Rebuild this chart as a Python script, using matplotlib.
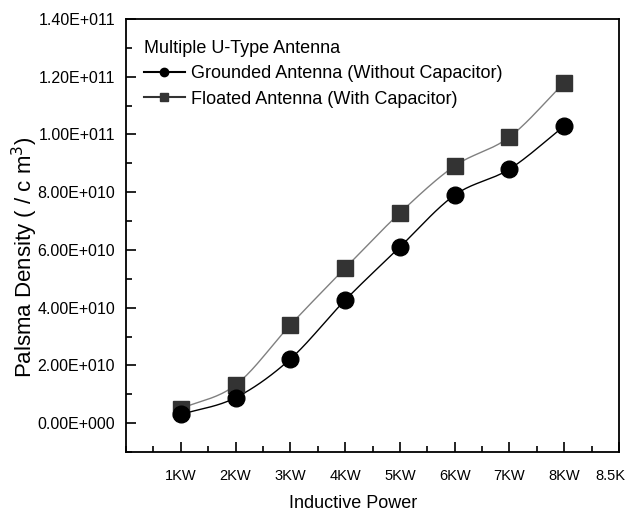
import numpy as np
import matplotlib
matplotlib.use("Agg")
import matplotlib.pyplot as plt
import matplotlib.transforms as mtransforms
from matplotlib.ticker import MultipleLocator, FixedLocator
from matplotlib.lines import Line2D

plt.rcParams['font.family'] = ['Liberation Sans', 'DejaVu Sans']

power = [1, 2, 3, 4, 5, 6, 7, 8]
tick_pos = [1, 2, 3, 4, 5, 6, 7, 8, 9]
tick_labels = ['1KW', '2KW', '3KW', '4KW', '5KW', '6KW', '7KW', '8KW', '8.5K']
grounded = [0.30e10, 0.88e10, 2.22e10, 4.26e10, 6.10e10, 7.90e10, 8.80e10, 10.29e10]
floated = [0.50e10, 1.32e10, 3.40e10, 5.37e10, 7.28e10, 8.91e10, 9.91e10, 11.79e10]
ytick_vals = [0, 2e10, 4e10, 6e10, 8e10, 10e10, 12e10, 14e10]
ytick_labels = ['0.00E+000', '2.00E+010', '4.00E+010', '6.00E+010', '8.00E+010',
                '1.00E+011', '1.20E+011', '1.40E+011']


def smooth(x, y, n=20):
    # Catmull-Rom curve through the data points (for drawing the connecting line)
    x = np.asarray(x, float); y = np.asarray(y, float)
    px = np.concatenate([[2 * x[0] - x[1]], x, [2 * x[-1] - x[-2]]])
    py = np.concatenate([[2 * y[0] - y[1]], y, [2 * y[-1] - y[-2]]])
    xs, ys = [], []
    t = np.linspace(0, 1, n, endpoint=False)
    for i in range(1, len(px) - 2):
        for arr, out in ((px, xs), (py, ys)):
            p0, p1, p2, p3 = arr[i - 1], arr[i], arr[i + 1], arr[i + 2]
            out.extend(0.5 * ((2 * p1) + (-p0 + p2) * t + (2 * p0 - 5 * p1 + 4 * p2 - p3) * t ** 2
                              + (-p0 + 3 * p1 - 3 * p2 + p3) * t ** 3))
    xs.append(x[-1]); ys.append(y[-1])
    return np.array(xs), np.array(ys)


fig = plt.figure(figsize=(6.27, 5.11), dpi=100)
ax = fig.add_axes([126 / 627, 1 - 452 / 511, (619 - 126) / 627, (452 - 19) / 511])

sx, sy = smooth(power, floated)
ax.plot(sx, sy, color='#808080', lw=1.0, zorder=2)
gx, gy = smooth(power, grounded)
ax.plot(gx, gy, color='black', lw=1.0, zorder=2)
ax.plot(power, floated, ls='none', marker='s', ms=12, color='#333333', zorder=3)
ax.plot(power, grounded, ls='none', marker='o', ms=12, color='black', zorder=3)

ax.set_xlim(0, 9)
ax.set_ylim(-1e10, 1.4e11)
ax.xaxis.set_major_locator(FixedLocator(tick_pos))
ax.set_xticklabels(tick_labels)
ax.xaxis.set_minor_locator(MultipleLocator(0.5))
ax.yaxis.set_major_locator(FixedLocator(ytick_vals))
ax.set_yticklabels(ytick_labels)
ax.yaxis.set_minor_locator(MultipleLocator(1e10))
ax.tick_params(which='major', direction='in', length=7, width=1.2)
ax.tick_params(which='minor', direction='in', length=4, width=1.2)
ax.tick_params(axis='x', which='major', pad=12, labelsize=10.5)
ax.tick_params(axis='y', which='major', pad=8, labelsize=11.5)
for s in ax.spines.values():
    s.set_linewidth(1.3)

last = ax.get_xticklabels()[-1]
last.set_horizontalalignment('right')
last.set_transform(last.get_transform() + mtransforms.ScaledTranslation(6 / 100, 0, fig.dpi_scale_trans))

ax.set_xlabel('Inductive Power', fontsize=13)
ax.xaxis.set_label_coords(0.46, -0.1)
ax.set_ylabel('Palsma Density ( / c m$^3$)', fontsize=16)
ax.yaxis.set_label_coords(-0.175, 0.45)

handles = [Line2D([], [], color='black', marker='o', ms=6, lw=1.5),
           Line2D([], [], color='#333333', marker='s', ms=6, lw=1.5)]
leg = ax.legend(handles, ['Grounded Antenna (Without Capacitor)', 'Floated Antenna (With Capacitor)'],
                title='Multiple U-Type Antenna', loc='upper left', frameon=False,
                fontsize=13, title_fontsize=13, handlelength=2.3, handletextpad=0.35,
                labelspacing=0.45, borderaxespad=0.3, bbox_to_anchor=(0.01, 0.98))
leg._legend_box.align = 'left'

fig.savefig('out.png', dpi=100)
